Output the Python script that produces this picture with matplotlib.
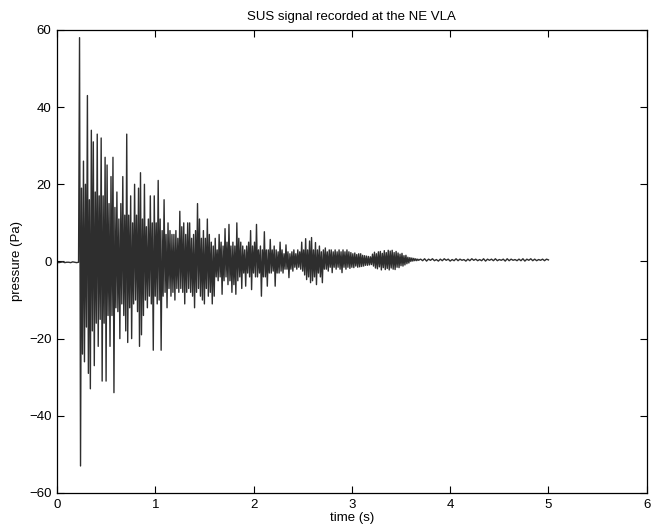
import numpy as np
import matplotlib
matplotlib.use("Agg")
import matplotlib.pyplot as plt

plt.rcParams['font.family'] = ['Liberation Sans', 'DejaVu Sans']

title = "SUS signal recorded at the NE VLA"
xlabel = "time (s)"
ylabel = "pressure (Pa)"
xticks = [0, 1, 2, 3, 4, 5, 6]
yticks = [-60, -40, -20, 0, 20, 40, 60]

# pre-onset segment: t = 0 .. 0.22 s, step 0.02 s
pre_start, pre_dt = 0.0, 0.02
p_pre = [-0.2, -0.3, -0.2, -0.1, -0.3, -0.2, -0.2, -0.3, -0.1, -0.2, -0.3, -0.2]

# active segment: t = 0.23 .. 3.69 s, step 0.01 s (peak values read per pixel column)
act_start, act_dt = 0.23, 0.01
p_act = [
    58, -53, 19, -24, 26, -26, 20,
    -17, 43, -29, 16, -33, 34, -18, 31, -27, 18,
    -16, 33, -22, 17, -15, 32, -31, 17, -16, 27,
    -31, 25, -14, 15, -22, 22, -14, 27, -34,
    14, -12, 18, -13, 11, -20, 15, -11, 22, -14,
    12, -18, 33, -21, 12, -12, 17, -20, 10, -11,
    20, -10, 12, -13, 19, -22, 23, -19, 11, -14,
    20, -10, 9, -12, 11, -9, 17, -11, 10,
    -23, 17, -9, 10, -11, 21, -10, 11, -23,
    8, -9, 16, -8, 7, -12, 10, -7, 8, -9, 7, -8,
    7, -10, 8, -7, 6, -8, 13, -7, 9, -8,
    10, -11, 7, -8, 10, -7, 10, -8, 6, -9,
    7, -12, 8, -8, 15, -7, 11, -9, 6, -10,
    8, -11, 6, -7, 11, -9, 7, -8, 5, -11,
    4, -9, 6, -4, 3, -5, 7, -4, 5, -8.5,
    4, -5, 8.5, -4, 5, -6, 9.6, -5, 4, -8,
    5, -6, 4, -8.5, 10, -5, 6, -4, 5,
    -7, 4, -3, 3, -6.4, 4, -3, 5, -4, 8,
    -7.3, 4, -3, 5, -4, 9.6, -4, 3, -3, 4, -9,
    3, -4, 7.7, -4, 3, -6.4, 3, -3, 5.7,
    -3, 3, -2.5, 4, -6.4, 3, -3, 2.5, -3, 5,
    -2.5, 3, -3, 2, -2, 4.3, -2, 2.5, -4.2, 2, -2, 2.5,
    -2.5, 3, -1.5, 2, -2, 3, -1.5, 2.5, -2,
    5, -2.5, 3, -3.5, 5.9, -4.7, 3, -4, 5.3, -5.5,
    6.2, -5, 3, -4, 4.9, -6, 3, -3, 4, -4,
    2.5, -5.5, 3, -2, 3.5, -2, 2.5, -2.5, 3, -1.5,
    3, -2.9, 2.5, -1.5, 3, -2, 2.5, -1.5, 3, -2,
    2.5, -2.9, 3, -1.5, 2.5, -2, 3, -1.5, 2.5, -1.8,
    2.3, -1.5, 2, -1.6, 2.2, -1.2, 1.8, -1.5, 2, -1.4,
    2, -1.3, 1.6, -1.2, 1.5, -1, 1.4, -1, 1.3, -0.9,
    1.2, -0.8, 1.9, -1.2, 2.4, -1.7, 2.0, -1.9, 2.5, -1.4,
    2.6, -2.2, 2.1, -1.6, 2.8, -2.1, 2.3, -1.8, 2.9, -2.2,
    2.7, -1.7, 2.9, -2.0, 2.3, -2.1, 2.6, -1.5, 2.2, -1.6,
    1.9, -1.1, 2.1, -1.2, 1.5, -0.9, 1.6, -0.6, 1.1, -0.4,
    1, 0, 0.9, 0.1, 0.8, 0.2, 0.7, 0.2, 0.6, 0.3, 0.5,
]

# tail segment: t = 3.70 .. 5.00 s, step 0.02 s
tail_start, tail_dt = 3.70, 0.02
p_tail = [
    0.6, 0.2, 0.7, 0.1, 0.6, 0.3, 0.7, 0.2, 0.5, 0.1,
    0.6, 0.2, 0.7, 0.3, 0.6, 0.1, 0.5, 0.2, 0.7, 0.2,
    0.6, 0.3, 0.5, 0.1, 0.6, 0.2, 0.7, 0.3, 0.6, 0.2,
    0.5, 0.2, 0.7, 0.1, 0.6, 0.3, 0.6, 0.2, 0.7, 0.2,
    0.5, 0.3, 0.6, 0.1, 0.7, 0.2, 0.6, 0.3, 0.5, 0.2,
    0.6, 0.2, 0.7, 0.1, 0.6, 0.3, 0.7, 0.2, 0.6, 0.2,
    0.5, 0.3, 0.6, 0.2, 0.6, 0.4,
]

t_pre = pre_start + pre_dt * np.arange(len(p_pre))
t_act = act_start + act_dt * np.arange(len(p_act))
t_tail = tail_start + tail_dt * np.arange(len(p_tail))
t = np.concatenate([t_pre, t_act, t_tail])
p = np.concatenate([p_pre, p_act, p_tail])

fig = plt.figure(figsize=(6.62, 5.31), dpi=100)
ax = fig.add_axes([0.086, 0.0716, 0.891, 0.872])
ax.plot(t, p, color='#2e2e2e', lw=1.0)
ax.set_xlim(0, 6)
ax.set_ylim(-60, 60)
ax.set_xticks(xticks)
ax.set_yticks(yticks)
ax.set_yticklabels([str(v).replace('-', '\u2212') for v in yticks])
ax.tick_params(direction='in', top=True, right=True, length=5, width=0.8,
               labelsize=9.5, pad=4)
for s in ax.spines.values():
    s.set_linewidth(0.9)
ax.set_title(title, fontsize=9.5, pad=7)
ax.set_xlabel(xlabel, fontsize=9.5, labelpad=1)
ax.set_ylabel(ylabel, fontsize=9.5, labelpad=4)
fig.savefig("out.png", dpi=100)
